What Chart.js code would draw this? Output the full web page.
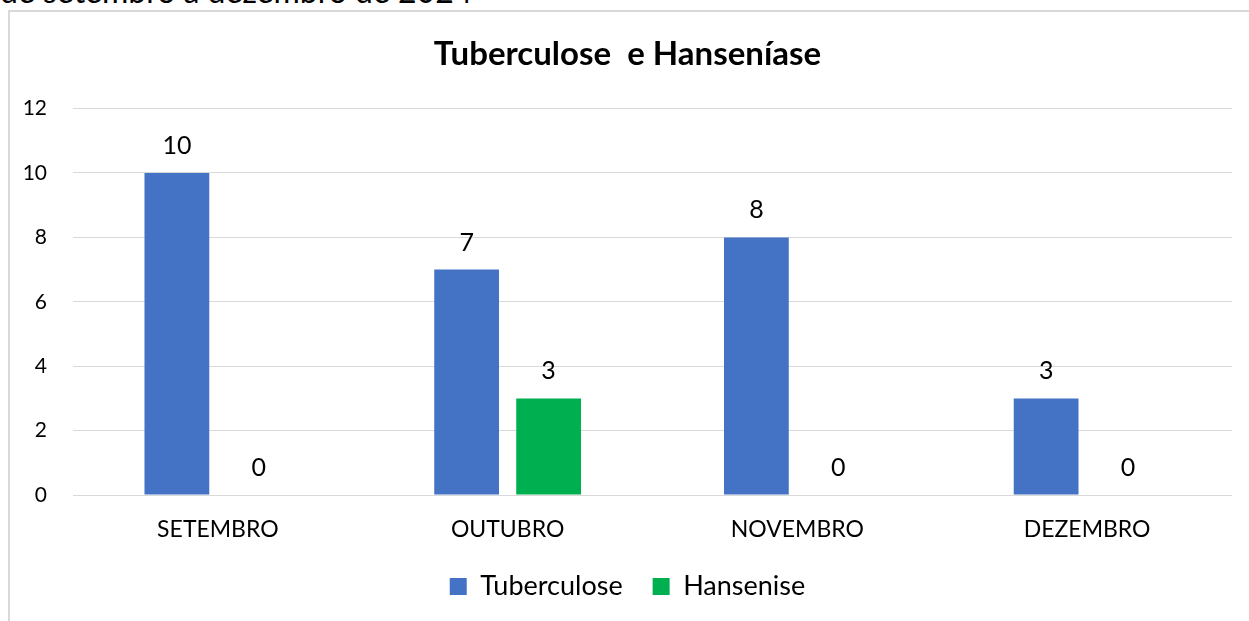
<!DOCTYPE html>
<html>
<head>
<meta charset="utf-8">
<script src="https://cdn.jsdelivr.net/npm/chart.js@4"></script>
<style>
  body { margin: 0; background: #fff; overflow: hidden; width: 1249px; height: 621px; position: relative; }
  #topo { position: absolute; left: 0; top: -25px; font: 32px/32px Lato, sans-serif; color: #000; white-space: nowrap; }
  #caixa { position: absolute; left: 8px; top: 10px; width: 1260px; height: 640px; border: 2px solid #d9d9d9; box-sizing: border-box; }
  #grafico { position: absolute; left: 0; top: 0; }
</style>
</head>
<body>
<div id="topo">de setembro a dezembro de 2024</div>
<div id="caixa">
  <canvas id="grafico" width="1239" height="609"></canvas>
</div>
<script>
// Casos por mês
const meses = ['SETEMBRO', 'OUTUBRO', 'NOVEMBRO', 'DEZEMBRO'];
const tuberculose = [10, 7, 8, 3];
const hansenise = [0, 3, 0, 0];
const escalaY = [0, 2, 4, 6, 8, 10, 12];

const fonte = 'Lato, sans-serif';

// Rótulos de valor acima das barras
const rotulosValor = {
  id: 'rotulosValor',
  afterDatasetsDraw(chart) {
    const ctx = chart.ctx;
    ctx.save();
    ctx.font = '25px ' + fonte;
    ctx.fillStyle = '#000';
    ctx.textAlign = 'center';
    ctx.textBaseline = 'middle';
    chart.data.datasets.forEach((ds, i) => {
      chart.getDatasetMeta(i).data.forEach((bar, j) => {
        ctx.fillText(ds.data[j], bar.x, bar.y - 27);
      });
    });
    ctx.restore();
  }
};

const ctx = document.getElementById('grafico').getContext('2d');
new Chart(ctx, {
  type: 'bar',
  data: {
    labels: meses,
    datasets: [{
      label: 'Tuberculose',
      data: tuberculose,
      backgroundColor: '#4472c4',
      categoryPercentage: 0.566,
      barPercentage: 0.79
    }, {
      label: 'Hansenise',
      data: hansenise,
      backgroundColor: '#00b050',
      categoryPercentage: 0.566,
      barPercentage: 0.79
    }]
  },
  options: {
    responsive: false,
    animation: false,
    layout: { padding: { left: 13, right: 17, top: 0, bottom: 11 } },
    plugins: {
      title: {
        display: true,
        text: 'Tuberculose  e Hanseníase',
        color: '#000',
        font: { family: fonte, size: 33, weight: 'bold' },
        padding: { top: 23, bottom: 34 }
      },
      legend: {
        position: 'bottom',
        labels: {
          color: '#000',
          font: { family: fonte, size: 27 },
          boxWidth: 17,
          boxHeight: 17,
          padding: 30
        }
      },
      tooltip: { enabled: false }
    },
    scales: {
      x: {
        afterFit(scale) { scale.height = 48; },
        grid: { display: false, drawTicks: false },
        border: { display: false },
        ticks: { color: '#000', font: { family: fonte, size: 23 }, padding: 21 }
      },
      y: {
        min: 0,
        max: 12,
        afterBuildTicks(axis) { axis.ticks = escalaY.map(v => ({ value: v })); },
        afterFit(scale) { scale.width = 50; },
        grid: { color: '#d9d9d9', lineWidth: 1, drawTicks: false, tickLength: 0 },
        border: { display: false },
        ticks: { color: '#000', font: { family: fonte, size: 21 }, padding: 26 }
      }
    }
  },
  plugins: [rotulosValor]
});
</script>
</body>
</html>
